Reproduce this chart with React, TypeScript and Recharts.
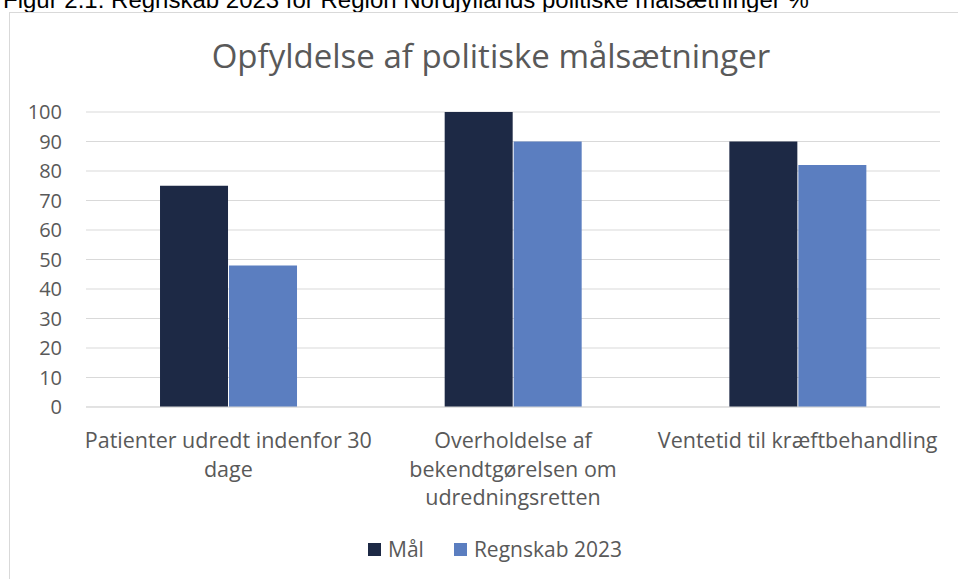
import React from "react";
import { Bar, BarChart, CartesianGrid, XAxis, YAxis } from "recharts";

const categories = [
  "Patienter udredt indenfor 30 dage",
  "Overholdelse af bekendtgørelsen om udredningsretten",
  "Ventetid til kræftbehandling",
];
// how the category labels wrap in the reference
const categoryLines = [
  ["Patienter udredt indenfor 30", "dage"],
  ["Overholdelse af", "bekendtgørelsen om", "udredningsretten"],
  ["Ventetid til kræftbehandling"],
];
const maal = [75, 100, 90];
const regnskab2023 = [48, 90, 82];
const yTicks = [0, 10, 20, 30, 40, 50, 60, 70, 80, 90, 100];

const seriesNames = ["Mål", "Regnskab 2023"];
const colors = ["#1d2945", "#5b7ec0"];
const textColor = "#595959";
const font = "'Open Sans', sans-serif";

const rows = categories.map((name, i) => ({
  name,
  maal: maal[i],
  regnskab: regnskab2023[i],
}));

function CategoryTick(props: any) {
  const { x, y, index } = props;
  const lines = categoryLines[index] ?? [];
  return (
    <g transform={`translate(${x},${y})`}>
      {lines.map((line, i) => (
        <text
          key={i}
          x={0}
          y={i * 28.5}
          dy={33}
          textAnchor="middle"
          fill={textColor}
          fontSize={21.5}
          fontFamily={font}
        >
          {line}
        </text>
      ))}
    </g>
  );
}

export default function App() {
  return (
    <div
      style={{
        position: "fixed",
        left: 0,
        top: 0,
        width: 958,
        height: 579,
        background: "#fff",
        overflow: "hidden",
      }}
    >
      <div
        style={{
          position: "absolute",
          left: 3,
          top: -12,
          fontFamily: "'Liberation Sans', Arial, sans-serif",
          fontSize: 24,
          lineHeight: "24px",
          color: "#000",
          whiteSpace: "nowrap",
        }}
      >
        Figur 2.1: Regnskab 2023 for Region Nordjyllands politiske målsætninger %
      </div>
      <div
        style={{
          position: "absolute",
          left: 9,
          top: 12,
          width: 970,
          height: 600,
          border: "1px solid #d9d9d9",
          boxSizing: "border-box",
        }}
      />
      <div
        style={{
          position: "absolute",
          left: 0,
          top: 33,
          width: 982,
          textAlign: "center",
          fontFamily: font,
          fontSize: 33,
          lineHeight: "46px",
          color: textColor,
          whiteSpace: "nowrap",
        }}
      >
        Opfyldelse af politiske målsætninger
      </div>
      <div style={{ position: "absolute", left: 0, top: 0 }}>
        <BarChart
          width={958}
          height={579}
          data={rows}
          margin={{ top: 112, right: 18, bottom: 112, left: 0 }}
          barCategoryGap="26%"
          barGap={1}
        >
          <CartesianGrid vertical={false} stroke="#d9d9d9" />
          <XAxis
            dataKey="name"
            axisLine={{ stroke: "#d9d9d9" }}
            tickLine={false}
            tick={<CategoryTick />}
            interval={0}
            height={60}
          />
          <YAxis
            width={86}
            domain={[0, 100]}
            ticks={yTicks}
            interval={0}
            axisLine={false}
            tickLine={false}
            tickSize={0}
            tickMargin={24}
            tick={{ fill: textColor, fontSize: 20, fontFamily: font }}
          />
          <Bar dataKey="maal" name={seriesNames[0]} fill={colors[0]} isAnimationActive={false} />
          <Bar dataKey="regnskab" name={seriesNames[1]} fill={colors[1]} isAnimationActive={false} />
        </BarChart>
      </div>
      <div
        style={{
          position: "absolute",
          left: 0,
          top: 535,
          width: 990,
          display: "flex",
          justifyContent: "center",
          gap: 30,
          fontFamily: font,
          fontSize: 21,
          lineHeight: "28px",
          color: textColor,
        }}
      >
        {seriesNames.map((n, i) => (
          <span key={n} style={{ display: "flex", alignItems: "center" }}>
            <span
              style={{
                display: "inline-block",
                width: 13,
                height: 13,
                background: colors[i],
                marginRight: 7,
              }}
            />
            {n}
          </span>
        ))}
      </div>
    </div>
  );
}
